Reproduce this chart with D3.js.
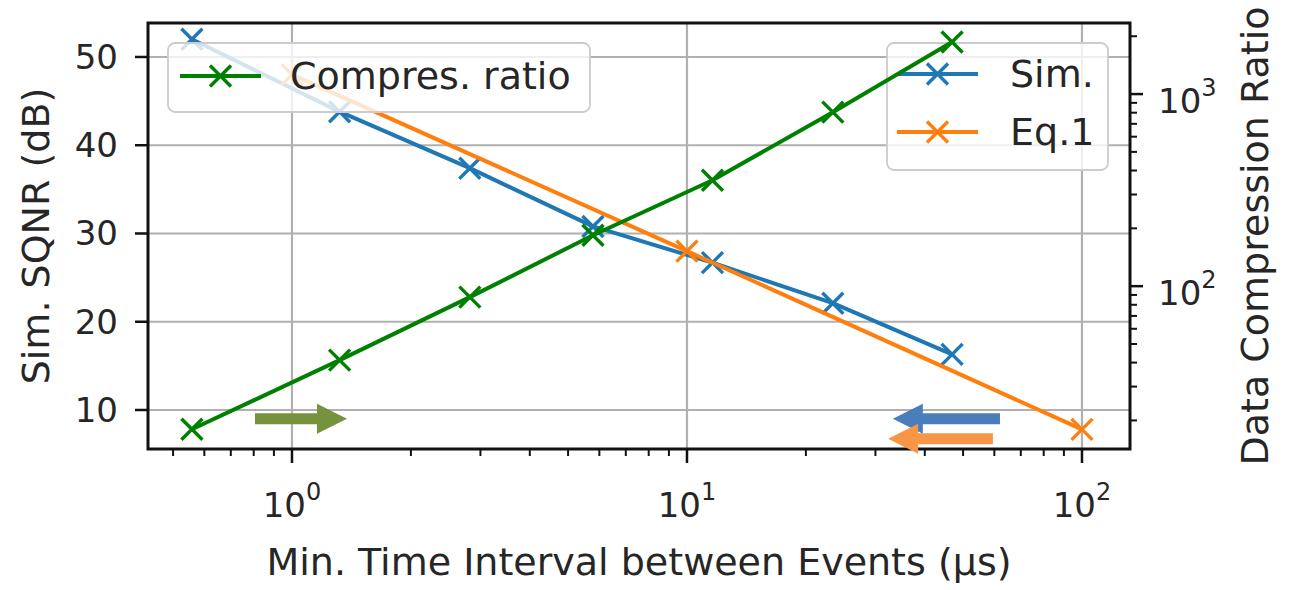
<!DOCTYPE html>
<html>
<head>
<meta charset="utf-8">
<script src="https://cdn.jsdelivr.net/npm/d3@7"></script>
<style>
  body { margin: 0; background: #fff; }
  svg { display: block; }
  text { font-family: "DejaVu Sans", sans-serif; fill: #262626; }
</style>
</head>
<body>
<svg id="chart" width="1293" height="590"></svg>
<script>
const svg = d3.select("#chart");

// data
const simT = [0.558, 1.32, 2.82, 5.78, 11.6, 23.4, 46.9];
const simSqnr = [52.0, 43.8, 37.4, 30.8, 26.7, 22.1, 16.3];
const eqT = [1, 10, 100];
const eqSqnr = [48.0, 28.0, 7.8];
const ratioT = [0.558, 1.32, 2.82, 5.78, 11.6, 23.4, 46.9];
const ratio = [18.0, 41.2, 87.7, 184, 356, 805, 1866];

const leftTicks = [10, 20, 30, 40, 50];
const xMajor = [1, 10, 100];
const rightMajor = [100, 1000];

const BLUE = "#1f77b4", ORANGE = "#ff7f0e", GREEN = "#008000";
const LABEL_SIZE = "38px";

const plotLeft = 148, plotRight = 1130, plotTop = 23, plotBottom = 449;

let xscale = d3.scaleLog().domain([0.432, 132.3]).range([plotLeft, plotRight]);
let yleft = d3.scaleLinear().domain([5.58, 53.85]).range([plotBottom, plotTop]);
let yright = d3.scaleLog().domain([14.2, 2344]).range([plotBottom, plotTop]);

// minor ticks of the log axes
function logMinor(scale) {
    const [a, b] = scale.domain();
    const out = [];
    for (let e = Math.floor(Math.log10(a)); e <= Math.ceil(Math.log10(b)); e++) {
        for (let k = 2; k <= 9; k++) {
            const v = k * Math.pow(10, e);
            if (v >= a && v <= b) out.push(v);
        }
    }
    return out;
}

function main() {
    drawGrid();
    drawSeries(simT, simSqnr, yleft, BLUE);
    drawSeries(eqT, eqSqnr, yleft, ORANGE);
    drawLegend(887, 43, 221, 127, [
        {label: "Sim.", color: BLUE, y: 74},
        {label: "Eq.1", color: ORANGE, y: 132}
    ], 897, 1010);
    drawSeries(ratioT, ratio, yright, GREEN);
    drawLegend(168, 43, 422, 69, [
        {label: "Compres. ratio", color: GREEN, y: 76}
    ], 180, 290);
    drawAxes();
    drawArrows();
}

function drawGrid() {
    const g = svg.append("g").attr("stroke", "#b0b0b0").attr("stroke-width", 2.2);
    g.selectAll(".vgrid").data(xMajor).join("line")
        .attr("x1", d => xscale(d)).attr("x2", d => xscale(d))
        .attr("y1", plotTop).attr("y2", plotBottom);
    g.selectAll(".hgrid").data(leftTicks).join("line")
        .attr("x1", plotLeft).attr("x2", plotRight)
        .attr("y1", d => yleft(d)).attr("y2", d => yleft(d));
}

function drawMarker(g, cx, cy, color, size) {
    g.append("path")
        .attr("d", `M${cx - size},${cy - size}L${cx + size},${cy + size}M${cx - size},${cy + size}L${cx + size},${cy - size}`)
        .attr("stroke", color).attr("stroke-width", 3.4).attr("fill", "none");
}

function drawSeries(xs, ys, yscale, color) {
    const pts = xs.map((x, i) => [x, ys[i]]);
    const g = svg.append("g");
    g.append("path")
        .attr("d", d3.line().x(d => xscale(d[0])).y(d => yscale(d[1]))(pts))
        .attr("fill", "none").attr("stroke", color).attr("stroke-width", 4)
        .attr("stroke-linejoin", "round");
    pts.forEach(d => drawMarker(g, xscale(d[0]), yscale(d[1]), color, 10.5));
}

function drawLegend(x, y, w, h, items, hx, tx) {
    const g = svg.append("g");
    g.append("rect").attr("x", x).attr("y", y).attr("width", w).attr("height", h)
        .attr("rx", 7).attr("fill", "white").attr("fill-opacity", 0.8)
        .attr("stroke", "#cccccc").attr("stroke-width", 1.8);
    items.forEach(it => {
        g.append("line").attr("x1", hx).attr("x2", hx + 81)
            .attr("y1", it.y).attr("y2", it.y)
            .attr("stroke", it.color).attr("stroke-width", 4);
        drawMarker(g, hx + 40.5, it.y, it.color, 10.5);
        g.append("text").attr("x", tx).attr("y", it.y + 13)
            .style("font-size", LABEL_SIZE).text(it.label);
    });
}

function drawAxes() {
    const g = svg.append("g");
    // left ticks
    g.selectAll(".lt").data(leftTicks).join("line")
        .attr("x1", plotLeft - 13).attr("x2", plotLeft)
        .attr("y1", d => yleft(d)).attr("y2", d => yleft(d))
        .attr("stroke", "#111").attr("stroke-width", 2.5);
    g.selectAll(".ltl").data(leftTicks).join("text")
        .attr("x", plotLeft - 30).attr("y", d => yleft(d) + 12)
        .attr("text-anchor", "end").style("font-size", "34px")
        .text(d => d);

    // bottom ticks
    g.selectAll(".bt").data(xMajor).join("line")
        .attr("x1", d => xscale(d)).attr("x2", d => xscale(d))
        .attr("y1", plotBottom).attr("y2", plotBottom + 14)
        .attr("stroke", "#111").attr("stroke-width", 2.5);
    g.selectAll(".btm").data(logMinor(xscale)).join("line")
        .attr("x1", d => xscale(d)).attr("x2", d => xscale(d))
        .attr("y1", plotBottom).attr("y2", plotBottom + 7)
        .attr("stroke", "#111").attr("stroke-width", 2);
    const bl = g.selectAll(".btl").data(xMajor).join("text")
        .attr("x", d => xscale(d)).attr("y", 517)
        .attr("text-anchor", "middle").style("font-size", "34px");
    bl.append("tspan").text("10");
    bl.append("tspan").attr("dy", -17).style("font-size", "24px")
        .text(d => Math.round(Math.log10(d)));

    // right ticks
    g.selectAll(".rt").data(rightMajor).join("line")
        .attr("x1", plotRight).attr("x2", plotRight + 13)
        .attr("y1", d => yright(d)).attr("y2", d => yright(d))
        .attr("stroke", "#111").attr("stroke-width", 2.5);
    g.selectAll(".rtm").data(logMinor(yright)).join("line")
        .attr("x1", plotRight).attr("x2", plotRight + 7)
        .attr("y1", d => yright(d)).attr("y2", d => yright(d))
        .attr("stroke", "#111").attr("stroke-width", 2);
    const rl = g.selectAll(".rtl").data(rightMajor).join("text")
        .attr("x", plotRight + 28).attr("y", d => yright(d) + 19)
        .attr("text-anchor", "start").style("font-size", "34px");
    rl.append("tspan").text("10");
    rl.append("tspan").attr("dy", -17).style("font-size", "24px")
        .text(d => Math.round(Math.log10(d)));

    // frame
    g.append("rect").attr("x", plotLeft).attr("y", plotTop)
        .attr("width", plotRight - plotLeft).attr("height", plotBottom - plotTop)
        .attr("fill", "none").attr("stroke", "#111").attr("stroke-width", 3);

    // axis labels
    svg.append("text").attr("x", (plotLeft + plotRight) / 2).attr("y", 575)
        .attr("text-anchor", "middle").style("font-size", LABEL_SIZE)
        .text("Min. Time Interval between Events (µs)");
    svg.append("text").attr("transform", `translate(49,${(plotTop + plotBottom) / 2}) rotate(-90)`)
        .attr("text-anchor", "middle").style("font-size", LABEL_SIZE)
        .text("Sim. SQNR (dB)");
    svg.append("text").attr("transform", `translate(1268,${(plotTop + plotBottom) / 2}) rotate(-90)`)
        .attr("text-anchor", "middle").style("font-size", LABEL_SIZE)
        .text("Data Compression Ratio");
}

// block arrows, placed in data units on the left axis
const arrowData = [
    {from: 0.806, to: 1.378, y: 9.0, color: "#76923c"},
    {from: 62.0, to: 33.2, y: 9.0, color: "#4a7ebb"},
    {from: 59.5, to: 32.3, y: 6.74, color: "#f79646"}
];

function drawArrows() {
    arrowData.forEach(a => {
        const x0 = xscale(a.from), x1 = xscale(a.to), yc = yleft(a.y);
        const dir = Math.sign(x1 - x0);
        const head = 30 * dir, bh = 5.5, hh = 15;
        const xb = x1 - head;
        const pts = [[x0, yc - bh], [xb, yc - bh], [xb, yc - hh], [x1, yc],
                     [xb, yc + hh], [xb, yc + bh], [x0, yc + bh]];
        svg.append("polygon").attr("points", pts.map(p => p.join(",")).join(" "))
            .attr("fill", a.color);
    });
}

main();
</script>
</body>
</html>
